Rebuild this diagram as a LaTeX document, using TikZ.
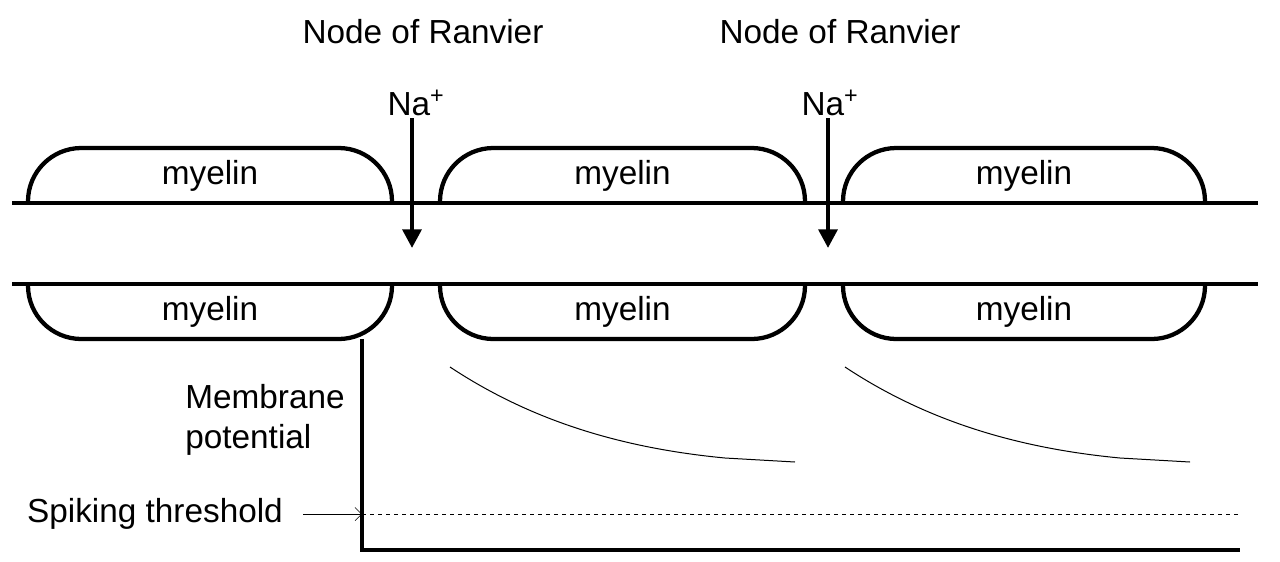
\documentclass[tikz,border=0pt]{standalone}
\usepackage{fontspec}
\setmainfont{Liberation Sans}
\usetikzlibrary{arrows.meta}
\tikzset{every picture/.style={line width=0.75pt}}
\tikzset{
  thick line/.style={line width=3.2pt},
  lbl/.style={font=\fontsize{25}{30}\selectfont},
}

\begin{document}
\begin{tikzpicture}[x=0.75pt,y=0.75pt,yscale=-1]
\useasboundingbox (0,0) rectangle (1280,561);

%Axon membrane
\draw [thick line] (12,203) -- (1258,203) ;
\draw [thick line] (12,284) -- (1258,284) ;

%Myelin sheaths
\foreach \xa/\xb in {28/392, 440/805, 843/1205}{
  \draw [thick line, rounded corners=40] (\xa,203) -- (\xa,148) -- (\xb,148) -- (\xb,203) ;
  \draw [thick line, rounded corners=40] (\xa,284) -- (\xa,339) -- (\xb,339) -- (\xb,284) ;
  \node [lbl] (mt\xa) at ({(\xa+\xb)/2},176) {myelin};
  \node [lbl] (mb\xa) at ({(\xa+\xb)/2},312) {myelin};
}

%Nodes of Ranvier
\node [lbl] (ranvier1) at (423,32) {Node of Ranvier};
\node [lbl] (ranvier2) at (840,32) {Node of Ranvier};
\node [lbl] (na1) at (416,103) {Na\textsuperscript{+}};
\node [lbl] (na2) at (830,103) {Na\textsuperscript{+}};
\coordinate (in1) at (412,248);
\coordinate (in2) at (828,248);
\draw [thick line, -{Stealth[length=14pt,width=14pt,inset=0pt]}] (412,118) -- (in1) ;
\draw [thick line, -{Stealth[length=14pt,width=14pt,inset=0pt]}] (828,118) -- (in2) ;

%Axes
\coordinate (origin) at (362,550);
\draw [thick line] (362,339) -- (origin) -- (1240,550) ;
\node [lbl, align=left] (mp) at (265,420) {Membrane\\potential};

%Threshold
\coordinate (th) at (362,514);
\draw [dashed] (th) -- (1240,514) ;
\node [lbl] (spike) at (155,514) {Spiking threshold};
\draw [-{Straight Barb[length=5pt]}, line width=0.4pt] (303,514) -- (th) ;

%Decay curves
\draw (450,367) .. controls (530,420) and (620,448) .. (725,458) -- (795,462) ;
\draw (845,367) .. controls (925,420) and (1015,448) .. (1120,458) -- (1190,462) ;

\end{tikzpicture}
\end{document}
